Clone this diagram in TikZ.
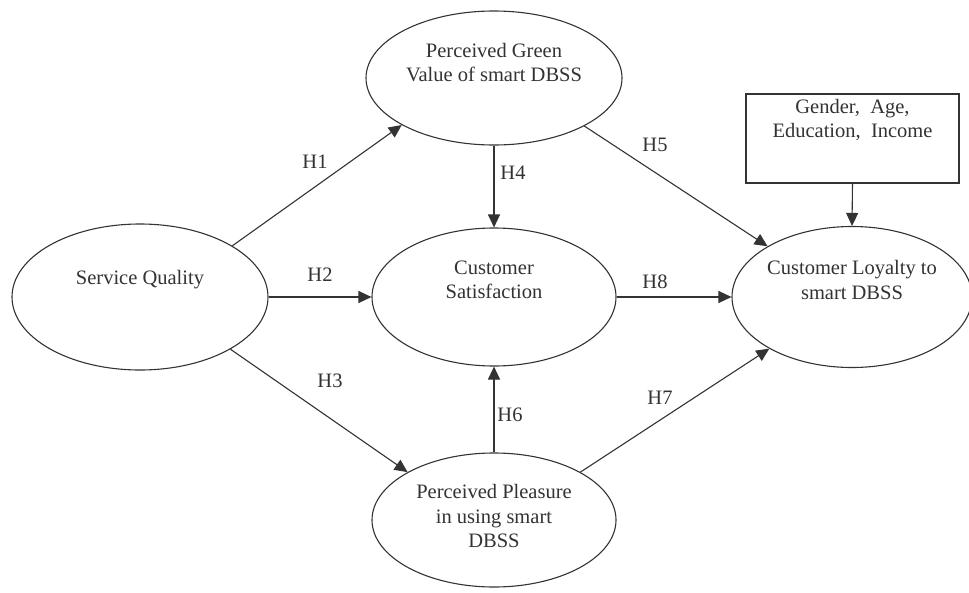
\documentclass[tikz,border=0pt]{standalone}
\usepackage{fontspec}
\setmainfont{Liberation Serif}
\usetikzlibrary{shapes.geometric,arrows.meta}
\definecolor{ink}{gray}{0.2}
\tikzset{
  construct/.style={draw=ink, ellipse, inner sep=0pt},
  caption/.style={text=ink, align=center, inner sep=0pt},
  hyp/.style={text=ink, inner sep=0pt},
  link/.style={draw=ink, ->},
}
\begin{document}
\begin{tikzpicture}[x=1pt, y=-1pt, line width=1.1pt,
  font=\fontsize{20.5}{24.5}\selectfont,
  >={Triangle[length=13pt,width=12pt]}]
\fill[white] (0,0) rectangle (969,592);
\useasboundingbox (0,0) rectangle (969,592);
% constructs
\node[construct, minimum width=256, minimum height=146] (sq) at (140,297) {};
\node[construct, minimum width=256, minimum height=134] (green) at (494,78) {};
\node[construct, minimum width=244, minimum height=138] (cs) at (494,297) {};
\node[construct, minimum width=244, minimum height=134] (pl) at (494,520) {};
\node[construct, minimum width=240, minimum height=141] (loy) at (852,297) {};
\node[draw=ink, inner sep=0pt, minimum width=213, minimum height=89] (ctrl) at (852.5,138.5) {};
% texts
\node[caption] (sqtext) at ([yshift=17pt]sq.center) {Service Quality};
\node[caption] (greentext) at ([yshift=15.5pt]green.center) {Perceived Green\\Value of smart DBSS};
\node[caption] (cstext) at ([yshift=17pt]cs.center) {Customer\\Satisfaction};
\node[caption] (pltext) at ([yshift=4pt]pl.center) {Perceived Pleasure\\in using smart\\DBSS};
\node[caption] (loytext) at ([yshift=17pt]loy.center) {Customer Loyalty to\\smart DBSS};
\node[caption] (ctrltext) at ([yshift=18.5pt]ctrl.center) {Gender,\ \ Age,\\Education,\ \ Income};
% paths
\draw[link] (sq.29.5) -- (green.207);
\draw[link] (sq.east) -- (cs.west);
\draw[link] (sq.-30) -- (pl.151);
\draw[link] (green.south) -- (cs.north);
\draw[link] (green.332) -- (loy.149);
\draw[link] (pl.north) -- (cs.south);
\draw[link] (pl.29) -- (loy.212.6);
\draw[link] (cs.east) -- (loy.west);
\draw[link] (ctrl.south) -- (loy.north);
% hypotheses
\node[hyp] (h1) at (315,162) {H1};
\node[hyp] (h2) at (320,275) {H2};
\node[hyp] (h3) at (330,381) {H3};
\node[hyp] (h4) at (513,173) {H4};
\node[hyp] (h5) at (655,145) {H5};
\node[hyp] (h6) at (510,415) {H6};
\node[hyp] (h7) at (660,398) {H7};
\node[hyp] (h8) at (655,282) {H8};
\end{tikzpicture}
\end{document}
